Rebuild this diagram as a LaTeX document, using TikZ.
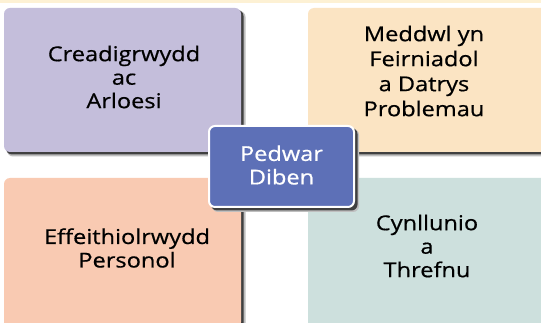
\documentclass[tikz,border=0pt]{standalone}
\usepackage{fontspec}
\setmainfont[FakeStretch=1.15,FakeBold=0.6]{Open Sans}
\definecolor{strip}{HTML}{FDF1D4}
\definecolor{lav}{HTML}{C4BEDB}
\definecolor{peach}{HTML}{FBE4C3}
\definecolor{salmon}{HTML}{F9CAB2}
\definecolor{mint}{HTML}{CDE0DD}
\definecolor{blu}{HTML}{5D70B7}
\tikzset{
  card/.style={rounded corners=6pt, inner sep=0pt, outer sep=0pt},
  shadow1/.style={fill=black!25, rounded corners=6pt},
  shadow2/.style={fill=black!75, rounded corners=6pt},
  txt/.style={align=center, font=\fontsize{20.5}{23.5}\selectfont, text=black},
}
\begin{document}
\begin{tikzpicture}[x=1pt,y=-1pt]
\useasboundingbox (0,0) rectangle (541,323);
\clip (0,0) rectangle (541,323);
\fill[white] (0,0) rectangle (541,323);
\fill[strip] (0,0) rectangle (541,3.5);
% shadows
\fill[shadow1] (7,11) rectangle (245.5,156.5);
\fill[shadow2] (6,10) rectangle (243.5,154.5);
\fill[shadow1] (311,11) rectangle (560,156.5);
\fill[shadow2] (310,10) rectangle (560,154.5);
\fill[shadow1] (7,181) rectangle (245.5,330);
\fill[shadow2] (6,180) rectangle (243.5,330);
% cards
\node[card, fill=lav, minimum width=237pt, minimum height=144pt, anchor=north west] (tl) at (4,8) {};
\node[card, fill=peach, minimum width=250pt, minimum height=144pt, anchor=north west] (tr) at (308,8) {};
\node[card, fill=salmon, minimum width=237pt, minimum height=150pt, anchor=north west] (bl) at (4,178) {};
\node[card, fill=mint, minimum width=250pt, minimum height=150pt, anchor=north west] (br) at (308,178) {};
% texts
\node[txt] (ttl) at (124,77) {Creadigrwydd\\ac\\Arloesi};
\node[txt, font=\fontsize{20.5}{25}\selectfont] (ttr) at (424,71) {Meddwl yn\\Feirniadol\\a Datrys\\Problemau};
\node[txt] (tbl) at (127,248) {Effeithiolrwydd\\Personol};
\node[txt] (tbr) at (427,246) {Cynllunio\\a\\Threfnu};
% centre
\fill[shadow1] (212,129) rectangle (359,212);
\fill[shadow2] (211,128) rectangle (357.5,210.5);
\node[card, fill=blu, draw=white, line width=2pt, minimum width=145pt, minimum height=81pt, anchor=north west] (c) at (209,126) {};
\node[txt, text=white] (tc) at (281.5,165) {Pedwar\\Diben};
\end{tikzpicture}
\end{document}
